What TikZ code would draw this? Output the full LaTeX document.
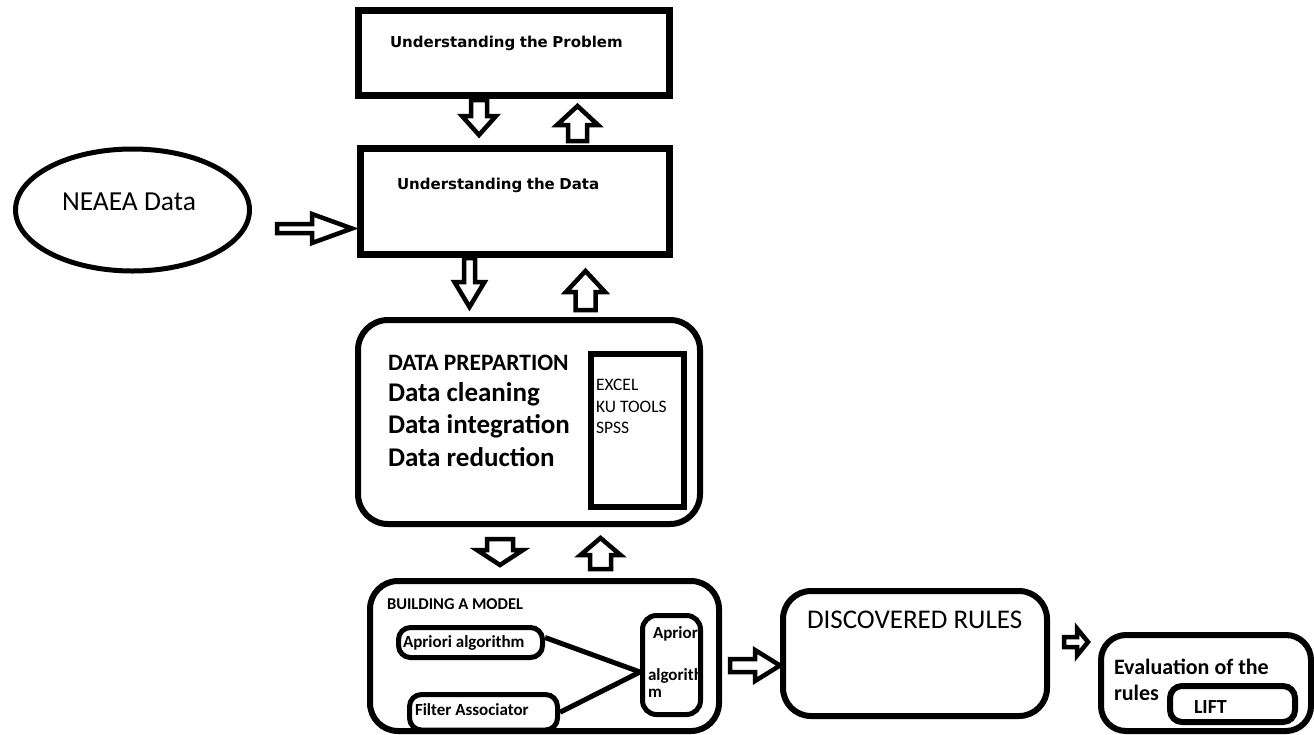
\documentclass[tikz,border=0pt]{standalone}
\usepackage{fontspec}
\setmainfont{Carlito}
\newfontfamily\headfont{DejaVu Sans}
\usetikzlibrary{calc,shapes.geometric}

\tikzset{
  frame/.style={draw=black, fill=white, line width=7pt, inner sep=0pt},
  rframe/.style={draw=black, fill=white, line width=6pt, inner sep=0pt, rounded corners=#1},
  sframe/.style={draw=black, fill=white, line width=5pt, inner sep=0pt, rounded corners=#1},
  blockarrow/.style={draw=black, fill=white, line width=4.5pt, line join=miter},
  lbl/.style={anchor=base west, inner sep=0pt, outer sep=0pt, text=black},
  link/.style={draw=black, line width=5pt},
}
% hollow vertical block arrow: centre x, tail y, head-base y, tip y, shaft half-width, head half-width
\newcommand\vblock[6]{%
  \draw[blockarrow] ({#1-#5},#2) -- ({#1+#5},#2) -- ({#1+#5},#3) -- ({#1+#6},#3)
    -- (#1,#4) -- ({#1-#6},#3) -- ({#1-#5},#3) -- cycle;}
% hollow horizontal block arrow: centre y, tail x, head-base x, tip x, shaft half-width, head half-width
\newcommand\hblock[6]{%
  \draw[blockarrow] (#2,{#1-#5}) -- (#2,{#1+#5}) -- (#3,{#1+#5}) -- (#3,{#1+#6})
    -- (#4,#1) -- (#3,{#1-#6}) -- (#3,{#1-#5}) -- cycle;}
\newcommand\fs[1]{\fontsize{#1}{#1}\selectfont}

\begin{document}
\begin{tikzpicture}[x=1pt,y=-1pt]
\useasboundingbox[fill=white] (0,0) rectangle (1314,734);

% block arrows between the stages
\vblock{479}{100}{116}{135}{8}{17}
\vblock{577.5}{141}{125}{106}{9.5}{20.5}
\hblock{228.5}{277}{312}{352}{4.5}{14.5}
\vblock{469.5}{258}{282}{307}{5.5}{15}
\vblock{585.5}{310}{292}{271}{10}{19.5}
\vblock{500}{539}{550}{565}{13}{23}
\vblock{600.5}{569}{555}{538}{10.5}{20}
\hblock{665.5}{730}{755}{780}{6.5}{15.5}
\hblock{642}{1064}{1077}{1088}{5}{13.5}

% source data
\node[draw=black, line width=5pt, ellipse, minimum width=234pt, minimum height=122pt, inner sep=0pt] (src) at (132.5,210) {};
\node[lbl] (srct) at (62,210) {\fs{27.5}NEAEA Data};

% understanding stages
\node[frame, minimum width=311pt, minimum height=85pt] (prob) at (514,53) {};
\node[lbl] (probt) at (390,47) {\headfont\bfseries\fs{15}Understanding\hspace{0.3em}the\hspace{0.3em}Problem};
\node[frame, minimum width=309pt, minimum height=106pt] (data) at (515,201.5) {};
\node[lbl] (datat) at (397,189) {\headfont\bfseries\fs{15}Understanding\hspace{0.3em}the\hspace{0.3em}Data};

% data preparation
\node[rframe=30pt, minimum width=342pt, minimum height=204pt] (prep) at (529,422) {};
\node[lbl] (prep1) at (388,370) {\bfseries\fs{23.5}DATA PREPARTION};
\node[lbl] (prep2) at (388,401) {\bfseries\fs{27}Data cleaning};
\node[lbl] (prep3) at (388,433) {\bfseries\fs{27}Data integration};
\node[lbl] (prep4) at (388,466) {\bfseries\fs{27}Data reduction};
\node[draw=black, fill=white, line width=6pt, inner sep=0pt, minimum width=93pt, minimum height=153pt] (tools) at (637.5,430.5) {};
\node[lbl] (tool1) at (596,390) {\fs{17.5}EXCEL};
\node[lbl] (tool2) at (596,412) {\fs{17.5}KU TOOLS};
\node[lbl] (tool3) at (596,433) {\fs{17.5}SPSS};

% model building
\node[rframe=28pt, minimum width=349pt, minimum height=150pt] (model) at (544.5,656) {};
\node[lbl] (modelt) at (387,609) {\bfseries\fs{16.5}BUILDING A MODEL};
\node[sframe=12pt, minimum width=144pt, minimum height=30pt] (apr) at (470.5,642.5) {};
\node[lbl] (aprt) at (403,647) {\bfseries\fs{17}Apriori algorithm};
\node[sframe=12pt, minimum width=148pt, minimum height=35.5pt] (filt) at (483.5,712.25) {};
\node[lbl] (filtt) at (415,715) {\bfseries\fs{17}Filter Associator};
\node[sframe=14pt, minimum width=58pt, minimum height=99pt] (tall) at (671.5,665) {};
\node[lbl] (tall1) at (653,638) {\bfseries\fs{17}Apriori};
\node[lbl] (tall2) at (648,680) {\bfseries\fs{17}algorith};
\node[lbl] (tall3) at (648,697) {\bfseries\fs{17}m};
\draw[link] ([yshift=5pt]apr.east) -- ([yshift=-7pt]tall.west);
\draw[link] (filt.east) -- ([yshift=-7pt]tall.west);

% results
\node[rframe=28pt, minimum width=264pt, minimum height=125pt] (rules) at (915,653.5) {};
\node[lbl] (rulest) at (807,628) {\fs{27}DISCOVERED RULES};
\node[rframe=25pt, minimum width=210pt, minimum height=96pt] (eval) at (1206,683) {};
\node[lbl] (eval1) at (1114,674) {\bfseries\fs{22}Evaluation of the};
\node[lbl] (eval2) at (1114,700) {\bfseries\fs{22}rules};
\node[rframe=12pt, minimum width=125pt, minimum height=36pt] (lift) at (1232.5,704) {};
\node[lbl] (liftt) at (1194,713) {\bfseries\fs{20}LIFT};
\end{tikzpicture}
\end{document}
